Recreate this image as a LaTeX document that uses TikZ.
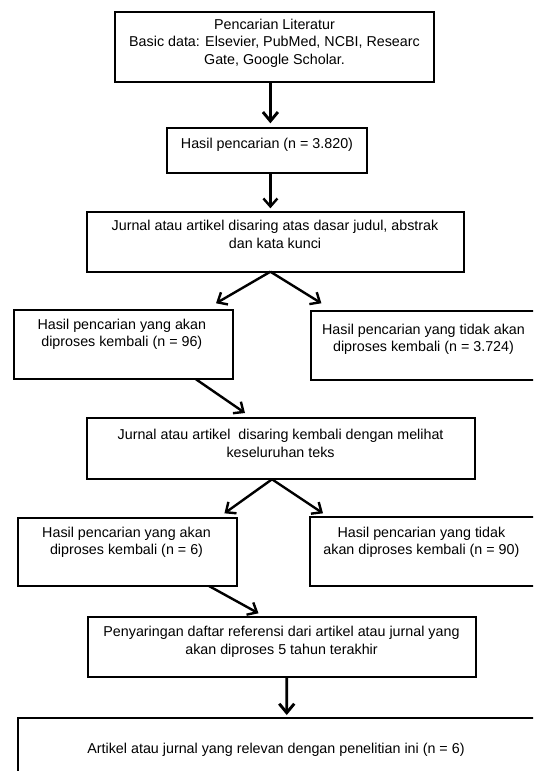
\documentclass[tikz,border=0pt]{standalone}
\usepackage{fontspec}
\setmainfont{Liberation Sans}
\usetikzlibrary{arrows.meta}
\begin{document}
\begin{tikzpicture}[x=1pt,y=-1pt,
  box/.style={draw=black,line width=2pt,inner sep=0pt,outer sep=0pt,rectangle},
  txt/.style={align=center,inner sep=0pt,font=\fontsize{14.3}{17.3}\selectfont,text=black},
  arr/.style={line width=2.4pt,-{Straight Barb[length=8pt,width=14pt,line width=2.4pt]}},
  arrb/.style={line width=2.9pt,-{Straight Barb[length=9pt,width=15pt,line width=2.9pt]}}]
\clip (0,0) rectangle (533,771);
\fill[white] (0,0) rectangle (533,771);
% boxes
\node[box,minimum width=319.8pt,minimum height=70pt] (b1) at (274.5,46.7) {};
\node[box,minimum width=200pt,minimum height=45pt] (b2) at (266.7,150.8) {};
\node[box,minimum width=377.6pt,minimum height=60pt] (b3) at (275.5,241.7) {};
\node[box,minimum width=219.4pt,minimum height=69pt] (b4) at (123.3,344.5) {};
\node[box,minimum width=248.8pt,minimum height=69pt] (b5) at (435.6,345.5) {};
\node[box,minimum width=387.8pt,minimum height=61pt] (b6) at (280.6,448.8) {};
\node[box,minimum width=219.9pt,minimum height=68.3pt] (b7) at (127.45,551.85) {};
\node[box,minimum width=249.8pt,minimum height=69pt] (b8) at (435.1,551.5) {};
\node[box,minimum width=388.4pt,minimum height=60pt] (b9) at (282,646.7) {};
\node[box,minimum width=542.5pt,minimum height=82.5pt] (b10) at (288.75,758.75) {};
% texts
\node[txt] (t1) at (274.5,43.3) {Pencarian Literatur\\Basic data: Elsevier, PubMed, NCBI, Researc\\Gate,  Google Scholar.};
\node[txt] (t2) at (267,145) {Hasil pencarian (n = 3.820)};
\node[txt] (t3) at (275,234.3) {Jurnal atau artikel  disaring atas dasar judul, abstrak\\dan kata kunci};
\node[txt] (t4) at (121.8,334.2) {Hasil pencarian yang akan\\diproses kembali (n = 96)};
\node[txt] (t5) at (423.5,339) {Hasil pencarian yang tidak akan\\diproses kembali (n = 3.724)};
\node[txt] (t6) at (280.6,443.3) {Jurnal atau artikel \ disaring kembali dengan melihat\\keseluruhan teks};
\node[txt] (t7) at (126.5,542) {Hasil pencarian yang akan\\diproses kembali (n = 6)};
\node[txt] (t8) at (421.4,542) {Hasil pencarian yang tidak\\akan diproses kembali (n = 90)};
\node[txt] (t9) at (281.5,641.7) {Penyaringan daftar referensi dari artikel atau jurnal yang\\akan diproses 5 tahun terakhir};
\node[txt] (t10) at (276,750) {Artikel atau jurnal yang relevan dengan penelitian ini (n = 6)};
% connectors
\draw[arrb] ([xshift=-4.1pt]b1.south) -- ([xshift=3.7pt,yshift=5pt]b2.north);
\draw[arr] ([xshift=3.7pt]b2.south) -- ([xshift=-5.1pt,yshift=3.4pt]b3.north);
\draw[arr] ([xshift=-5.1pt]b3.south) -- ([xshift=92.7pt,yshift=6.7pt]b4.north);
\draw[arr] ([xshift=-5.1pt]b3.south) -- ([xshift=-114.2pt,yshift=7.7pt]b5.north);
\draw[arr] ([xshift=72.3pt]b4.south) -- ([xshift=-35.6pt,yshift=5.3pt]b6.north);
\draw[arr] ([xshift=-8.6pt]b6.south) -- ([xshift=97pt,yshift=4.4pt]b7.north);
\draw[arr] ([xshift=-8.6pt]b6.south) -- ([xshift=-112.1pt,yshift=3.7pt]b8.north);
\draw[arr] ([xshift=81.55pt]b7.south) -- ([xshift=-23.5pt,yshift=3.4pt]b9.north);
\draw[arrb] ([xshift=4.7pt]b9.south) -- ([xshift=-2pt,yshift=2.5pt]b10.north);
\end{tikzpicture}
\end{document}
